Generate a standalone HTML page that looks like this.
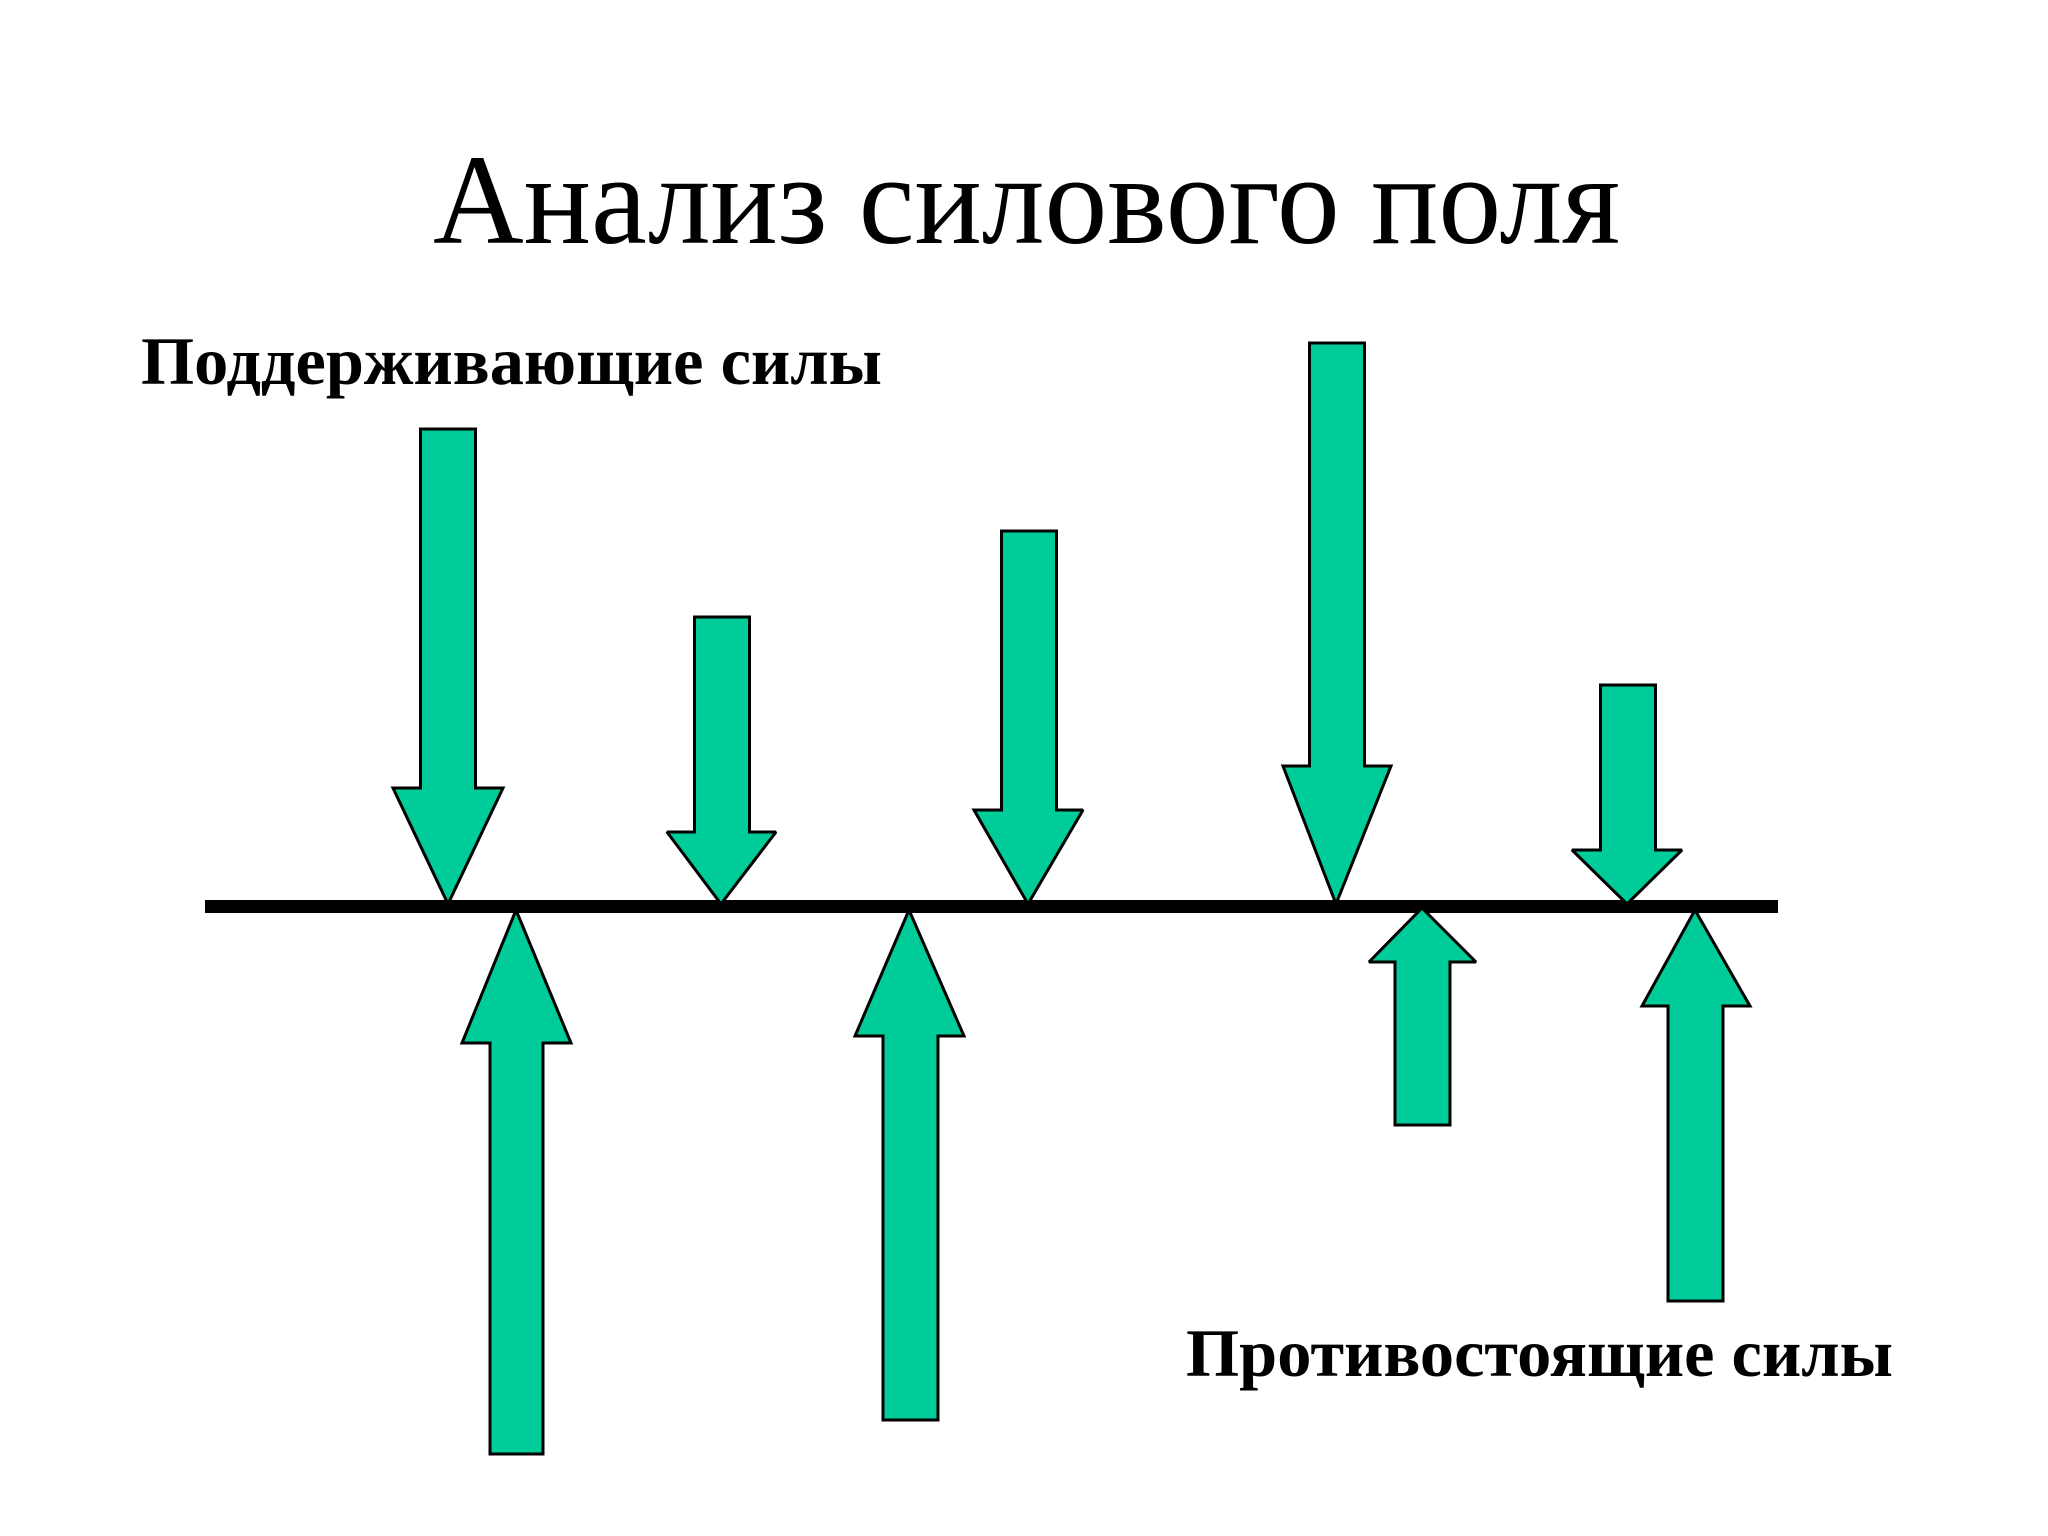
<!DOCTYPE html>
<html lang="ru">
<head>
<meta charset="utf-8">
<title>Анализ силового поля</title>
<style>
html,body{margin:0;padding:0;background:#fff;}
svg{display:block;}
text{font-family:"Liberation Serif",serif;fill:#000;}
polygon{fill:#00CC99;stroke:#000;stroke-width:3;stroke-linejoin:miter;stroke-miterlimit:2;}
</style>
</head>
<body>
<svg xmlns="http://www.w3.org/2000/svg" width="2048" height="1536" viewBox="0 0 2048 1536">
<rect width="2048" height="1536" fill="#fff"/>
<text x="433" y="243" font-size="128" textLength="1187" lengthAdjust="spacingAndGlyphs">Анализ силового поля</text>
<text x="141" y="384" font-size="68" font-weight="bold" textLength="741" lengthAdjust="spacingAndGlyphs">Поддерживающие силы</text>
<text x="1186" y="1376" font-size="68" font-weight="bold" textLength="707" lengthAdjust="spacingAndGlyphs">Противостоящие силы</text>

<rect x="205" y="900" width="1573" height="13" fill="#000"/>

<polygon points="420.5,429 475.5,429 475.5,788 503,788 448,904 393,788 420.5,788"/>
<polygon points="694.5,617 749.5,617 749.5,832 776,832 721,904 667,832 694.5,832"/>
<polygon points="1001.5,531 1056.5,531 1056.5,810 1083,810 1028,904 974,810 1001.5,810"/>
<polygon points="1309.5,343 1364.5,343 1364.5,766 1391,766 1336,904 1283,766 1309.5,766"/>
<polygon points="1600.5,685 1655.5,685 1655.5,850 1682,850 1627,904 1572,850 1600.5,850"/>

<polygon points="516,910 571,1043 543,1043 543,1454 490,1454 490,1043 462,1043"/>
<polygon points="909,910 964,1036 938,1036 938,1420 883,1420 883,1036 855,1036"/>
<polygon points="1422,908 1476,962 1450,962 1450,1125 1395,1125 1395,962 1369,962"/>
<polygon points="1695,910 1750,1006 1723,1006 1723,1301 1668,1301 1668,1006 1642,1006"/>
</svg>
</body>
</html>
